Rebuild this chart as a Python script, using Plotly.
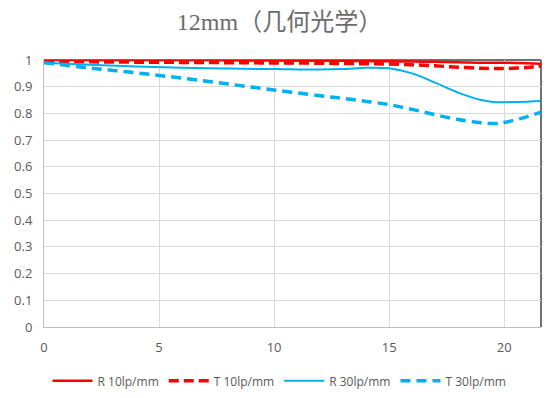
import plotly.graph_objects as go

title_text = "12mm（几何光学）"
x_vals = [0, 2, 4, 6, 8, 10, 12, 13, 14, 15, 16, 17, 18, 19, 19.6, 20, 21, 21.6]
r10 = [1.0, 1.0, 1.0, 1.0, 0.999, 0.998, 0.997, 0.997, 0.996, 0.995, 0.994, 0.993, 0.992, 0.99, 0.99, 0.99, 0.988, 0.986]
t10 = [0.995, 0.993, 0.992, 0.991, 0.99, 0.989, 0.988, 0.987, 0.986, 0.985, 0.982, 0.978, 0.973, 0.969, 0.968, 0.968, 0.972, 0.978]
r30 = [0.99, 0.982, 0.976, 0.971, 0.968, 0.966, 0.964, 0.966, 0.971, 0.969, 0.95, 0.915, 0.878, 0.85, 0.842, 0.842, 0.844, 0.846]
t30 = [0.99, 0.97, 0.952, 0.932, 0.91, 0.888, 0.866, 0.856, 0.845, 0.833, 0.815, 0.795, 0.777, 0.765, 0.762, 0.766, 0.788, 0.805]
names = ["R 10lp/mm", "T 10lp/mm", "R 30lp/mm", "T 30lp/mm"]
x_ticks = [0, 5, 10, 15, 20]
y_ticks = [0, 0.1, 0.2, 0.3, 0.4, 0.5, 0.6, 0.7, 0.8, 0.9, 1]
y_labels = ["0", "0.1", "0.2", "0.3", "0.4", "0.5", "0.6", "0.7", "0.8", "0.9", "1"]

RED = "#FF0000"
BLUE = "#00B0F0"
TICKFONT = dict(family="Open Sans, Liberation Sans", size=13, color="#595959")

fig = go.Figure()
fig.add_trace(go.Scatter(x=x_vals, y=r10, name=names[0], mode="lines",
                         line=dict(color=RED, width=2.5, shape="spline")))
fig.add_trace(go.Scatter(x=x_vals, y=t10, name=names[1], mode="lines",
                         line=dict(color=RED, width=3.5, dash="10px,5px", shape="spline")))
fig.add_trace(go.Scatter(x=x_vals, y=r30, name=names[2], mode="lines",
                         line=dict(color=BLUE, width=2, shape="spline")))
fig.add_trace(go.Scatter(x=x_vals, y=t30, name=names[3], mode="lines",
                         line=dict(color=BLUE, width=3.5, dash="10px,6px", shape="spline")))

fig.update_layout(
    width=543, height=390,
    margin=dict(l=36, r=10, t=52, b=71, autoexpand=False),
    paper_bgcolor="white", plot_bgcolor="white",
    title=dict(text=title_text, x=0.5, xanchor="center", xref="container", y=0.965, yanchor="middle",
               font=dict(family="Liberation Serif, Noto Sans CJK SC", size=24, color="#6B6B6B")),
    xaxis=dict(range=[0, 21.6], tickvals=x_ticks, showgrid=True, gridcolor="#D9D9D9", gridwidth=1,
               zeroline=False, showline=True, linecolor="#BFBFBF", linewidth=1, automargin=False,
               ticks="", ticklabelstandoff=8, tickfont=TICKFONT),
    yaxis=dict(range=[0, 1], tickvals=y_ticks, ticktext=y_labels, showgrid=True, gridcolor="#D9D9D9",
               gridwidth=1, zeroline=False, showline=True, linecolor="#BFBFBF", linewidth=1,
               ticks="", ticklabelstandoff=8, automargin=False, tickfont=TICKFONT),
    legend=dict(orientation="h", x=0.5, xanchor="center", xref="container", y=0.044, yref="container",
                yanchor="middle", font=dict(family="Open Sans, Liberation Sans", size=12, color="#595959"),
                itemwidth=40, tracegroupgap=0),
    showlegend=True,
)
fig.add_shape(type="line", xref="paper", yref="paper", x0=1, x1=1, y0=0, y1=1,
              line=dict(color="#404040", width=1.5), layer="below")
fig.add_shape(type="line", xref="paper", yref="paper", x0=0, x1=1, y0=1, y1=1,
              line=dict(color="#404040", width=1.5), layer="below")

fig.write_html("out.html")
